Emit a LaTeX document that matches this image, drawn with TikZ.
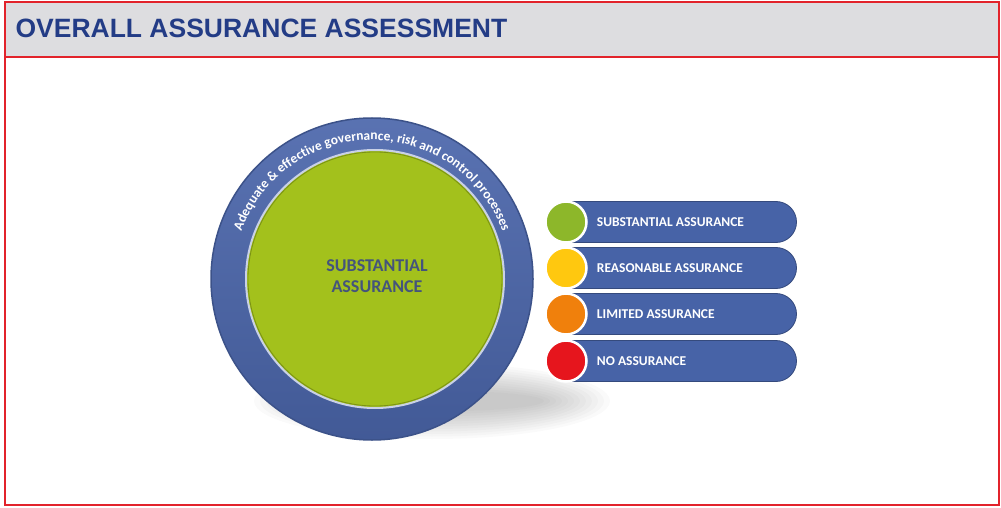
\documentclass[tikz,border=0pt]{standalone}
\usepackage{fontspec}
\setmainfont{Carlito}
\newfontfamily\headfont{Liberation Sans}
\usetikzlibrary{shapes.misc,decorations.text,positioning}

\definecolor{framered}{HTML}{E2232B}
\definecolor{headgray}{HTML}{DDDDE0}
\definecolor{headblue}{HTML}{233C86}
\definecolor{ringblue}{HTML}{4B66AB}
\definecolor{pillblue}{HTML}{4763A7}
\definecolor{limegreen}{HTML}{A3C11C}
\definecolor{textslate}{HTML}{44547C}
\definecolor{okgreen}{HTML}{8DB72A}
\definecolor{okyellow}{HTML}{FFC80F}
\definecolor{okorange}{HTML}{F0800C}
\definecolor{okred}{HTML}{E6151D}

\begin{document}
\begin{tikzpicture}[x=1pt,y=1pt,
    pill/.style={rounded rectangle, rounded rectangle left arc=none, fill=pillblue, draw=pillblue!75!black,
        line width=0.8pt, minimum width=225pt, minimum height=41pt, inner sep=0pt},
    dot/.style={circle, draw=white, line width=2.5pt, minimum size=41pt, inner sep=0pt},
    pilltext/.style={text=white, font=\bfseries\fontsize{13.5}{15}\selectfont, inner sep=0pt}]

\useasboundingbox (0,0) rectangle (1001,507);

% frame and heading band
\fill[headgray] (5,450) rectangle (999,505);
\draw[framered, line width=2.5pt] (5,2) rectangle (999,505);
\draw[framered, line width=2.5pt] (5,450) -- (999,450);
\node[anchor=west, text=headblue, font=\headfont\bfseries\fontsize{26.5}{30}\selectfont] (title) at (12,479) {OVERALL ASSURANCE ASSESSMENT};

% soft shadow under the disc
\foreach \k in {0,...,11}
    \fill[black, opacity=0.018] (432,106) ellipse ({178-6*\k} and {38-2.5*\k});

% the disc
\node[circle, top color=ringblue!92!white, bottom color=ringblue!88!black, draw=ringblue!80!black,
    line width=1.5pt, minimum size=322pt] (ring) at (372,228) {};
\node[circle, fill=limegreen, draw=white!70!ringblue, line width=2pt, minimum size=258pt] (core) at (375,228) {};
\draw[limegreen!75!black, line width=0.8pt] (core.center) circle (127);
\node[text=textslate, font=\bfseries\fontsize{18}{21}\selectfont, align=center] (rating) at (377,231) {SUBSTANTIAL\\ASSURANCE};

\path[decorate, decoration={text along path, text align=center,
    text={|\color{white}\bfseries\fontsize{13.5}{15}\selectfont|Adequate {\&} effective governance, risk and control processes}}]
    (ring.center) ++(165:139) arc (165:15:139);

% legend
\node[pill] (pillA) at (684,285) {};
\node[pill] (pillB) at (684,239) {};
\node[pill] (pillC) at (684,193) {};
\node[pill] (pillD) at (684,146) {};

\node[dot, fill=okgreen] (dotA) at (566,285) {};
\node[dot, fill=okyellow] (dotB) at (566,239) {};
\node[dot, fill=okorange] (dotC) at (566,193) {};
\node[dot, fill=okred] (dotD) at (566,146) {};

\node[pilltext, right=9pt of dotA] (labA) {SUBSTANTIAL ASSURANCE};
\node[pilltext, right=9pt of dotB] (labB) {REASONABLE ASSURANCE};
\node[pilltext, right=9pt of dotC] (labC) {LIMITED ASSURANCE};
\node[pilltext, right=9pt of dotD] (labD) {NO ASSURANCE};

\end{tikzpicture}
\end{document}
